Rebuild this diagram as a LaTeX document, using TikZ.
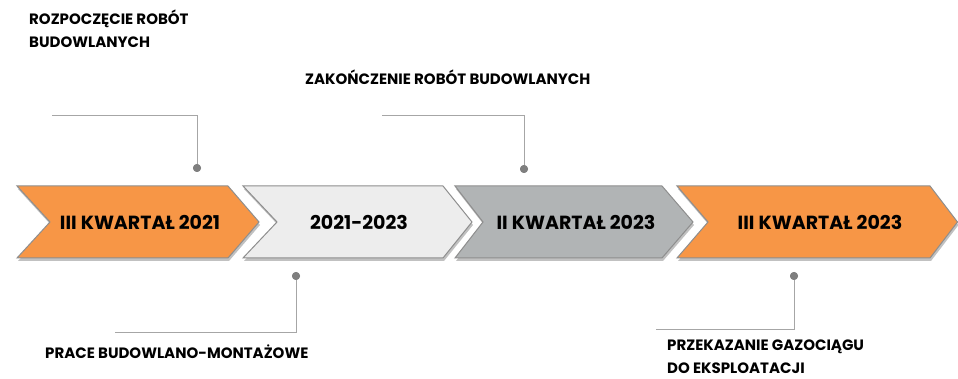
\documentclass[tikz,border=0pt]{standalone}
\usepackage{fontspec}
\setmainfont{Poppins}
\usetikzlibrary{shadows}
\definecolor{corange}{HTML}{F79646}
\definecolor{clight}{HTML}{EDEDED}
\definecolor{cgrey}{HTML}{B1B4B5}
\definecolor{cedge}{HTML}{8E8E8E}
\definecolor{cline}{HTML}{A6A6A6}
\definecolor{cdot}{HTML}{7F7F7F}
\tikzset{
  chev/.style={draw=cedge, line width=1pt, line join=miter,
    drop shadow={shadow xshift=1pt, shadow yshift=-3pt, opacity=0.35, fill=black!70}},
  chevtext/.style={font=\bfseries\fontsize{19}{22}\selectfont, text=black, inner sep=0pt},
  lbl/.style={font=\bfseries\fontsize{15}{23}\selectfont, text=black, inner sep=0pt, align=left, anchor=north west},
  conn/.style={draw=cline, line width=1pt},
  dotc/.style={circle, fill=cdot, minimum size=8pt, inner sep=0pt},
}
\begin{document}
\begin{tikzpicture}[x=1pt,y=-1pt]
\useasboundingbox (0,0) rectangle (958,379);
% chevrons
\path[chev, fill=corange] (17,186) -- (228,186) -- (259,222) -- (228,258) -- (17,258) -- (50,222) -- cycle;
\path[chev, fill=clight] (243,186) -- (443,186) -- (472,222) -- (443,258) -- (243,258) -- (277,222) -- cycle;
\path[chev, fill=cgrey] (455,186) -- (662,186) -- (693,222) -- (662,258) -- (455,258) -- (483,222) -- cycle;
\path[chev, fill=corange] (677,186) -- (930,186) -- (957.5,222) -- (930,258) -- (677,258) -- (708,222) -- cycle;
% chevron texts
\node[chevtext] (t1) at (140,222) {III KWARTAŁ 2021};
\node[chevtext] (t2) at (359,222) {2021-2023};
\node[chevtext] (t3) at (576,222) {II KWARTAŁ 2023};
\node[chevtext] (t4) at (820,222) {III KWARTAŁ 2023};
% labels
\node[lbl] (l1) at (29,10) {ROZPOCZĘCIE ROBÓT\\BUDOWLANYCH};
\node[lbl] (l2) at (305,70) {ZAKOŃCZENIE ROBÓT BUDOWLANYCH};
\node[lbl] (l3) at (45,345) {PRACE BUDOWLANO-MONTAŻOWE};
\node[lbl] (l4) at (667,340) {PRZEKAZANIE GAZOCIĄGU\\DO EKSPLOATACJI};
% connector ends
\coordinate (e1) at (52,116);
\coordinate (e2) at (382,116);
\coordinate (e3) at (115,332);
\coordinate (e4) at (656,329);
\node[dotc] (d1) at (197,168) {};
\node[dotc] (d2) at (524,169) {};
\node[dotc] (d3) at (296,276) {};
\node[dotc] (d4) at (794,276) {};
\draw[conn] (d1.center) |- (e1);
\draw[conn] (d2.center) |- (e2);
\draw[conn] (d3.center) |- (e3);
\draw[conn] (d4.center) |- (e4);
\node[dotc] at (d1) {};
\node[dotc] at (d2) {};
\node[dotc] at (d3) {};
\node[dotc] at (d4) {};
\end{tikzpicture}
\end{document}
